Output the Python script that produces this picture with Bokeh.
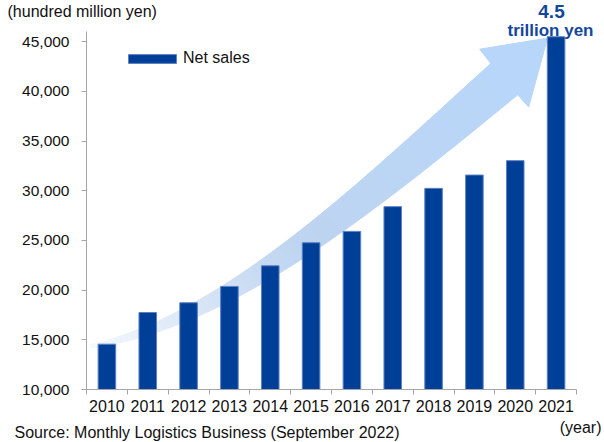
import numpy as np
from bokeh.plotting import figure
from bokeh.layouts import column
from bokeh.models import (Range1d, FixedTicker, Label, Legend, LegendItem,
                          ColumnDataSource, NumeralTickFormatter)
from bokeh.embed import file_html
from bokeh.resources import INLINE

# ---------------- data ----------------
years = ["2010", "2011", "2012", "2013", "2014", "2015",
         "2016", "2017", "2018", "2019", "2020", "2021"]
net_sales = [14560, 17750, 18730, 20370, 22450, 24770,
             25910, 28400, 30240, 31580, 33030, 45500]
y_ticks = [10000, 15000, 20000, 25000, 30000, 35000, 40000, 45000]
y_axis_max = 46000
series_name = "Net sales"
y_unit = "(hundred million yen)"
x_unit = "(year)"
source_note = "Source: Monthly Logistics Business (September 2022)"
callout_value = "4.5"
callout_unit = "trillion yen"

# decorative growth arrow outline (in data units: category index, value)
arrow_upper_x = [0.60, 1.99, 3.61, 5.33, 8.02, 10.40]
arrow_upper_y = [14580, 16290, 19810, 24940, 33790, 42850]
arrow_lower_x = [0.60, 1.58, 2.80, 4.27, 5.25, 6.48, 8.85, 11.06]
arrow_lower_y = [14380, 14780, 16290, 19710, 22020, 25040, 32090, 39740]
arrow_head_barb_upper = (10.13, 44250)
arrow_head_tip = (11.79, 45360)
arrow_head_barb_lower = (11.33, 38420)

FONT = "Liberation Sans"
BAR_COLOR = "#003f98"
TEXT_COLOR = "#111111"
AXIS_COLOR = "#a6a6a6"
CALLOUT_COLOR = "#13479e"

W = 604
TOP_H, MAIN_H, BOT_H = 20, 396, 26
FRAME_L, AXIS_R = 86, 576          # y-axis position / end of x-axis (px)
MB_BOTTOM = 27
Y0 = 10000
PX_PER_UNIT = 347.8 / 35000.0
n = len(years)
pos = list(range(1, n + 1))
PX_PER_CAT = (AXIS_R - FRAME_L) / n
frame_h = MAIN_H - MB_BOTTOM
Y1 = Y0 + frame_h / PX_PER_UNIT
X1 = 0.5 + (W - FRAME_L) / PX_PER_CAT


def text_fig(h):
    f = figure(width=W, height=h, output_backend="svg", toolbar_location=None,
               x_range=Range1d(0, W), y_range=Range1d(h, 0),
               x_axis_type=None, y_axis_type=None, min_border=0,
               frame_align=False)
    f.min_border_left = f.min_border_right = 0
    f.min_border_top = f.min_border_bottom = 0
    f.outline_line_color = None
    f.xgrid.visible = False
    f.ygrid.visible = False
    return f


def lab(f, x, y, text, size, align="left", color=TEXT_COLOR, style="normal"):
    f.add_layout(Label(x=x, y=y, text=text, text_font=FONT,
                       text_font_size=size, text_align=align,
                       text_baseline="middle", text_color=color,
                       text_font_style=style))


# ---------------- top strip ----------------
top = text_fig(TOP_H)
lab(top, 7, 10.5, y_unit, "16px")
lab(top, 551, 10.5, callout_value, "19px", align="center",
    color=CALLOUT_COLOR, style="bold")

# ---------------- main chart ----------------
p = figure(width=W, height=MAIN_H, output_backend="svg", toolbar_location=None,
           x_range=Range1d(0.5, X1), y_range=Range1d(Y0, Y1),
           min_border_left=FRAME_L, min_border_right=0,
           min_border_top=0, min_border_bottom=MB_BOTTOM, frame_align=False)
p.outline_line_color = None
p.xgrid.visible = False
p.ygrid.visible = False


def px_x(px):   # main-figure pixel -> data x
    return 0.5 + (px - FRAME_L) / PX_PER_CAT


def px_y(py):   # main-figure pixel (from its top) -> data y
    return Y0 + (frame_h - py) / PX_PER_UNIT


# arrow with a left-to-right gradient
fu = np.poly1d(np.polyfit(arrow_upper_x, arrow_upper_y, 3))
fl = np.poly1d(np.polyfit(arrow_lower_x, arrow_lower_y, 3))
N = 70
ts = np.linspace(0, 1, N + 1)
xu = arrow_upper_x[0] + ts * (arrow_upper_x[-1] - arrow_upper_x[0])
xl = arrow_lower_x[0] + ts * (arrow_lower_x[-1] - arrow_lower_x[0])
yu = fu(xu)
yl = fl(xl)
c0 = np.array([246, 249, 254])
c1 = np.array([190, 212, 240])
c2 = np.array([184, 214, 249])
xs, ys, cols = [], [], []
for i in range(N):
    t = (ts[i] + ts[i + 1]) / 2
    if t < 0.5:
        c = c0 + (c1 - c0) * (t / 0.5)
    else:
        c = c1 + (c2 - c1) * ((t - 0.5) / 0.5)
    col = "#%02x%02x%02x" % tuple(int(round(v)) for v in c)
    xs.append([xu[i], xu[i + 1], xl[i + 1], xl[i]])
    ys.append([yu[i], yu[i + 1], yl[i + 1], yl[i]])
    cols.append(col)
p.patches(xs=xs, ys=ys, fill_color=cols, line_color=cols, line_width=1)
head_col = "#%02x%02x%02x" % tuple(c2)
p.patch(x=[xu[-1], arrow_head_barb_upper[0], arrow_head_tip[0],
           arrow_head_barb_lower[0], xl[-1]],
        y=[yu[-1], arrow_head_barb_upper[1], arrow_head_tip[1],
           arrow_head_barb_lower[1], yl[-1]],
        fill_color=head_col, line_color=head_col, line_width=1)

# bars
src = ColumnDataSource(dict(x=pos, top=net_sales, year=years))
bars = p.vbar(x="x", top="top", bottom=Y0, width=0.43, source=src,
              fill_color=BAR_COLOR, line_color="#5b80c4", line_width=1)

# axes
xa = p.xaxis[0]
xa.bounds = (0.5, n + 0.5)
xa.ticker = FixedTicker(ticks=pos, minor_ticks=[k + 0.5 for k in range(n + 1)])
xa.major_label_overrides = {k: y for k, y in zip(pos, years)}
xa.major_tick_line_color = None
xa.major_tick_out = 4
xa.major_tick_in = 0
xa.minor_tick_out = 5
xa.minor_tick_in = 0
xa.minor_tick_line_color = AXIS_COLOR
xa.axis_line_color = AXIS_COLOR
xa.major_label_standoff = 5
xa.major_label_text_font = FONT
xa.major_label_text_font_size = "16px"
xa.major_label_text_color = TEXT_COLOR

ya = p.yaxis[0]
ya.bounds = (Y0, y_axis_max)
ya.ticker = FixedTicker(ticks=y_ticks)
ya.formatter = NumeralTickFormatter(format="0,0")
ya.major_tick_out = 5
ya.major_tick_in = 0
ya.minor_tick_line_color = None
ya.major_tick_line_color = AXIS_COLOR
ya.axis_line_color = AXIS_COLOR
ya.major_label_standoff = 12
ya.major_label_text_font = FONT
ya.major_label_text_font_size = "15.5px"
ya.major_label_text_color = TEXT_COLOR

# legend
legend = Legend(items=[LegendItem(label=series_name, renderers=[bars])],
                location=(36, 322), glyph_width=60, glyph_height=11,
                label_height=11, label_standoff=1, padding=0, margin=0, spacing=0,
                label_text_font=FONT, label_text_font_size="16px",
                label_text_color=TEXT_COLOR,
                border_line_color=None, background_fill_alpha=0)
p.add_layout(legend)

# callout unit just above the 2021 bar
p.add_layout(Label(x=px_x(550), y=px_y(10), text=callout_unit, text_font=FONT,
                   text_font_size="17px", text_align="center",
                   text_baseline="middle", text_color=CALLOUT_COLOR,
                   text_font_style="bold"))

# ---------------- bottom strip ----------------
bot = text_fig(BOT_H)
lab(bot, 14, 16, source_note, "16px")
lab(bot, 601, 11, x_unit, "16px", align="right")

layout = column(top, p, bot, spacing=0)
open("out.html", "w").write(file_html(layout, INLINE))
